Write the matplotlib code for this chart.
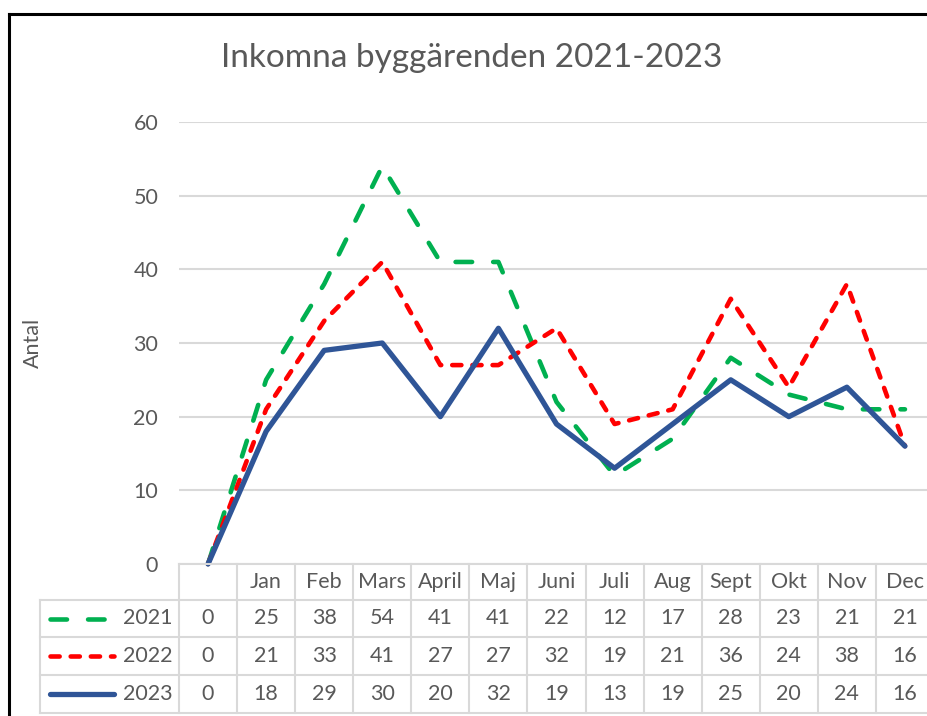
import matplotlib
matplotlib.use("Agg")
import matplotlib.pyplot as plt
from matplotlib.lines import Line2D
from matplotlib.transforms import blended_transform_factory

plt.rcParams['font.family'] = ['Lato', 'DejaVu Sans']

categories = ["", "Jan", "Feb", "Mars", "April", "Maj", "Juni", "Juli", "Aug",
              "Sept", "Okt", "Nov", "Dec"]
series_names = ["2021", "2022", "2023"]
v2021 = [0, 25, 38, 54, 41, 41, 22, 12, 17, 28, 23, 21, 21]
v2022 = [0, 21, 33, 41, 27, 27, 32, 19, 21, 36, 24, 38, 16]
v2023 = [0, 18, 29, 30, 20, 32, 19, 13, 19, 25, 20, 24, 16]
values = [v2021, v2022, v2023]
yticks = [0, 10, 20, 30, 40, 50, 60]

W, H = 928, 716
TXT = "#595959"
GRID = "#d9d9d9"
FS = 15.5
styles = [
    dict(color="#00B050", lw=3.3, dashes=(3.6, 4.6)),
    dict(color="#FF0000", lw=3.3, dashes=(2.0, 2.4)),
    dict(color="#2F5597", lw=3.8, dashes=None),
]

fig = plt.figure(figsize=(W / 100, H / 100), dpi=100)
fig.patch.set_facecolor("white")

def fx(x):
    return x / W

def fy(y):
    return 1 - y / H

ax_left, ax_right, ax_top, ax_bot = 179, 934, 122, 564
ax = fig.add_axes([fx(ax_left), fy(ax_bot), (ax_right - ax_left) / W, (ax_bot - ax_top) / H])
ax.set_xlim(-0.5, len(categories) - 0.5)
ax.set_ylim(0, 60)
for s in ax.spines.values():
    s.set_visible(False)
ax.set_xticks([])
ax.set_yticks(yticks)
ax.tick_params(axis="y", length=0, pad=15, labelsize=FS, labelcolor=TXT)
ax.yaxis.grid(True, color=GRID, lw=1.5)
ax.set_axisbelow(True)

x = list(range(len(categories)))
for vals, st in zip(values, styles):
    ln, = ax.plot(x, vals, color=st["color"], lw=st["lw"], clip_on=False,
                  solid_capstyle="round", dash_capstyle="round",
                  solid_joinstyle="round", dash_joinstyle="round", zorder=3)
    if st["dashes"]:
        ln.set_dashes(st["dashes"])

# Title and axis label
fig.text(fx(472), fy(58), "Inkomna byggärenden 2021-2023", ha="center", va="center",
         fontsize=24, color=TXT)
fig.text(fx(33), fy(343), "Antal", rotation=90, ha="center", va="center",
         fontsize=FS, color=TXT)

# Data table
trans = blended_transform_factory(ax.transData, fig.transFigure)
row_edges = [564, 600, 637, 675, 713]
row_centers = [(row_edges[i] + row_edges[i + 1]) / 2 for i in range(4)]
ncat = len(categories)
fig.add_artist(Line2D([-0.5, ncat - 0.5], [fy(564), fy(564)], transform=trans,
                      color=GRID, lw=1.5, zorder=1))
for y in row_edges[1:]:
    fig.add_artist(Line2D([fx(40), fx(1000)], [fy(y), fy(y)], transform=fig.transFigure,
                          color=GRID, lw=1.5, zorder=1))
for i in range(ncat + 1):
    fig.add_artist(Line2D([i - 0.5, i - 0.5], [fy(564), fy(713)], transform=trans,
                          color=GRID, lw=1.5, zorder=1))
fig.add_artist(Line2D([fx(40), fx(40)], [fy(600), fy(713)], transform=fig.transFigure,
                      color=GRID, lw=1.5, zorder=1))

for i, c in enumerate(categories):
    fig.text(i, fy(row_centers[0]), c, transform=trans, ha="center", va="center",
             fontsize=FS, color=TXT)
for r, (name, vals, st) in enumerate(zip(series_names, values, styles)):
    yc = fy(row_centers[r + 1])
    for i, v in enumerate(vals):
        fig.text(i, yc, str(v), transform=trans, ha="center", va="center",
                 fontsize=FS, color=TXT)
    fig.text(fx(173), yc, name, ha="right", va="center", fontsize=FS, color=TXT)
    lg = Line2D([fx(50), fx(114)], [yc, yc], transform=fig.transFigure,
                color=st["color"], lw=st["lw"], solid_capstyle="round",
                dash_capstyle="round")
    if st["dashes"]:
        lg.set_dashes(st["dashes"])
    fig.add_artist(lg)

# Chart border (partially visible)
fig.add_artist(Line2D([fx(9), fx(9)], [fy(14), 0], transform=fig.transFigure,
                      color="black", lw=2.2))
fig.add_artist(Line2D([fx(9), 1], [fy(14), fy(14)], transform=fig.transFigure,
                      color="black", lw=2.2))

fig.savefig("out.png", dpi=100)
